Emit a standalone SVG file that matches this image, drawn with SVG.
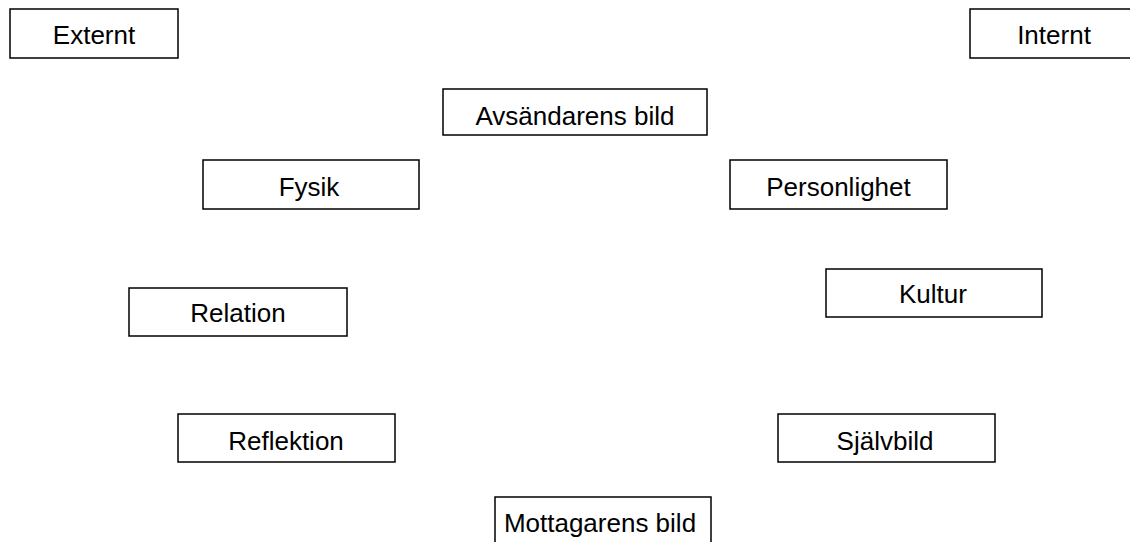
<svg xmlns="http://www.w3.org/2000/svg" width="1130" height="542" viewBox="0 0 1130 542">
<style>
.box{fill:#fff;stroke:#000;stroke-width:1.5}
.lbl{font-family:"Liberation Sans",Arial,sans-serif;font-size:26px;fill:#000;text-anchor:middle}
</style>
<rect width="1130" height="542" fill="#fff"/>
<g id="connectors"></g>
<g id="externt"><rect class="box" x="10" y="9" width="168" height="49"/><text class="lbl" x="94" y="44">Externt</text></g>
<g id="internt"><rect class="box" x="970" y="9" width="168" height="49"/><text class="lbl" x="1054" y="44">Internt</text></g>
<g id="avsandarens-bild"><rect class="box" x="443" y="89" width="264" height="46"/><text class="lbl" x="575" y="125">Avsändarens bild</text></g>
<g id="fysik"><rect class="box" x="203" y="160" width="216" height="49"/><text class="lbl" x="309" y="196">Fysik</text></g>
<g id="personlighet"><rect class="box" x="730" y="160" width="217" height="49"/><text class="lbl" x="838.5" y="196">Personlighet</text></g>
<g id="relation"><rect class="box" x="129" y="288" width="218" height="48"/><text class="lbl" x="238" y="322">Relation</text></g>
<g id="kultur"><rect class="box" x="826" y="269" width="216" height="48"/><text class="lbl" x="933" y="303">Kultur</text></g>
<g id="reflektion"><rect class="box" x="178" y="414" width="217" height="48"/><text class="lbl" x="286" y="450">Reflektion</text></g>
<g id="sjalvbild"><rect class="box" x="778" y="414" width="217" height="48"/><text class="lbl" x="885" y="450">Självbild</text></g>
<g id="mottagarens-bild"><rect class="box" x="495" y="497" width="216" height="50"/><text class="lbl" x="600" y="532">Mottagarens bild</text></g>
</svg>
